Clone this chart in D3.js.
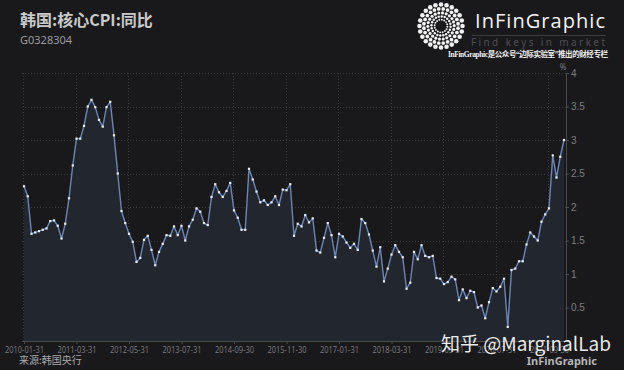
<!DOCTYPE html>
<html>
<head>
<meta charset="utf-8">
<script src="https://cdn.jsdelivr.net/npm/d3@7"></script>
<style>
  html, body { margin: 0; padding: 0; background: #19191b; }
  svg { display: block; font-family: "Noto Sans", "Noto Sans CJK SC", sans-serif; }
</style>
</head>
<body>
<svg id="chart"></svg>
<script>
'use strict';
// monthly core CPI yoy (%), 2010-01 .. 2022-01
const values = [
  2.31, 2.16, 1.60, 1.62, 1.64, 1.66, 1.68, 1.79, 1.80, 1.72, 1.53, 1.75,
  2.13, 2.62, 3.02, 3.02, 3.21, 3.50, 3.60, 3.49, 3.30, 3.20, 3.49, 3.57,
  3.07, 2.50, 1.94, 1.76, 1.60, 1.48, 1.18, 1.24, 1.51, 1.57, 1.36, 1.13,
  1.33, 1.45, 1.58, 1.57, 1.71, 1.58, 1.72, 1.50, 1.71, 1.81, 1.98, 1.93,
  1.76, 1.73, 2.15, 2.34, 2.22, 2.15, 2.24, 2.36, 1.95, 1.84, 1.66, 1.66,
  2.57, 2.41, 2.23, 2.07, 2.10, 2.03, 2.07, 2.16, 2.03, 2.26, 2.25, 2.34,
  1.57, 1.75, 1.71, 1.88, 1.77, 1.83, 1.35, 1.32, 1.54, 1.76, 1.58, 1.25,
  1.60, 1.56, 1.47, 1.39, 1.45, 1.36, 1.82, 1.76, 1.59, 1.35, 1.11, 1.40,
  0.89, 1.08, 1.29, 1.43, 1.33, 1.25, 0.78, 0.87, 1.33, 1.22, 1.43, 1.27,
  1.25, 1.27, 0.94, 0.93, 0.85, 0.88, 0.96, 0.92, 0.61, 0.77, 0.64, 0.75,
  0.73, 0.50, 0.53, 0.34, 0.58, 0.79, 0.74, 0.81, 0.93, 0.21, 1.06, 1.08,
  1.19, 1.19, 1.44, 1.62, 1.56, 1.50, 1.78, 1.89, 1.98, 2.77, 2.44, 2.75,
  3.00
];
const tickIndex = [0, 14, 28, 42, 56, 70, 84, 98, 112, 126, 140];
const tickLabels = ['2010-01-31', '2011-03-31', '2012-05-31', '2013-07-31', '2014-09-30',
  '2015-11-30', '2017-01-31', '2018-03-31', '2019-05-31', '2020-07-31', '2021-09-30'];
const yTicks = [0.5, 1, 1.5, 2, 2.5, 3, 3.5, 4];

const W = 624, H = 370;
const svg = d3.select('#chart').attr('width', W).attr('height', H);
svg.append('rect').attr('width', W).attr('height', H).attr('fill', '#19191b');

const plot = { left: 22, right: 566, top: 73, bottom: 341 };
const x = d3.scaleLinear().domain([0, values.length - 1]).range([24, 564]);
const y = d3.scaleLinear().domain([0, 4]).range([plot.bottom, plot.top]);

// grid
const grid = svg.append('g').attr('stroke', '#3a3a3d').attr('stroke-dasharray', '1,2').attr('stroke-width', 1);
grid.selectAll('line.h').data(yTicks).join('line')
  .attr('x1', plot.left).attr('x2', plot.right)
  .attr('y1', d => Math.round(y(d)) + 0.5).attr('y2', d => Math.round(y(d)) + 0.5);
grid.selectAll('line.v').data(tickIndex).join('line')
  .attr('x1', d => Math.round(x(d)) - 0.5).attr('x2', d => Math.round(x(d)) - 0.5)
  .attr('y1', plot.top).attr('y2', plot.bottom);

// area + line
const area = d3.area().x((d, i) => x(i)).y0(y(0)).y1(d => y(d));
const line = d3.line().x((d, i) => x(i)).y(d => y(d));
svg.append('path').datum(values).attr('d', area).attr('fill', '#232830').attr('opacity', 0.95);
svg.append('path').datum(values).attr('d', line)
  .attr('fill', 'none').attr('stroke', '#6e85b3').attr('stroke-width', 1.4)
  .attr('stroke-linejoin', 'round');
svg.append('g').selectAll('rect').data(values).join('rect')
  .attr('x', (d, i) => x(i) - 1.1).attr('y', d => y(d) - 1.1)
  .attr('width', 2.2).attr('height', 2.2).attr('fill', '#e6ecf6');

// x axis
const xAxis = svg.append('g').attr('transform', `translate(0,${plot.bottom})`)
  .call(d3.axisBottom(x).tickValues(tickIndex).tickFormat((d, i) => tickLabels[i]).tickSize(3).tickPadding(3));
xAxis.select('.domain').attr('stroke', '#4a4a4e').attr('d', `M${plot.left},0.5H${plot.right}`);
xAxis.selectAll('line').attr('stroke', '#4a4a4e');
xAxis.selectAll('text').attr('fill', '#7d7d80').attr('font-size', 9)
  .attr('textLength', 39).attr('lengthAdjust', 'spacingAndGlyphs')
  .attr('font-family', '"Open Sans", "Noto Sans", sans-serif');

// y axis on the right
const yAxis = svg.append('g').attr('transform', `translate(${plot.right},0)`)
  .call(d3.axisRight(y).tickValues(yTicks).tickFormat(d3.format('')).tickSize(3).tickPadding(2));
yAxis.select('.domain').attr('stroke', '#4a4a4e');
yAxis.selectAll('line').attr('stroke', '#4a4a4e');
yAxis.selectAll('text').attr('fill', '#7d7d80').attr('font-size', 10);
svg.append('text').attr('x', 563).attr('y', 70).attr('text-anchor', 'middle')
  .attr('fill', '#7d7d80').attr('font-size', 8).text('%');

// titles
svg.append('text').attr('x', 20).attr('y', 26).attr('fill', '#cacaca')
  .attr('font-size', 16).attr('font-weight', 'bold')
  .attr('font-family', '"Noto Sans CJK SC", sans-serif').text('韩国:核心CPI:同比');
svg.append('text').attr('x', 20).attr('y', 44).attr('fill', '#9a9a9c')
  .attr('font-size', 11).text('G0328304');

// logo
const logo = svg.append('g').attr('transform', 'translate(441,26)');
const rings = [
  { r: 21.5, n: 24, s: 2.3 },
  { r: 17.2, n: 24, s: 1.9 },
  { r: 13.2, n: 22, s: 1.6 },
  { r: 9.6, n: 20, s: 1.25 },
  { r: 6.4, n: 16, s: 0.95 }
];
rings.forEach((ring, k) => {
  logo.append('g').selectAll('circle').data(d3.range(ring.n)).join('circle')
    .attr('cx', j => ring.r * Math.cos(2 * Math.PI * j / ring.n + k * 0.13))
    .attr('cy', j => ring.r * Math.sin(2 * Math.PI * j / ring.n + k * 0.13))
    .attr('r', ring.s).attr('fill', '#f2f2f2');
});
svg.append('text').attr('x', 475).attr('y', 28).attr('fill', '#f4f4f4')
  .attr('font-size', 20).attr('font-family', '"Open Sans", sans-serif')
  .attr('textLength', 130).text('InFinGraphic');
svg.append('line').attr('x1', 472).attr('x2', 606).attr('y1', 35.5).attr('y2', 35.5)
  .attr('stroke', '#3d3d40').attr('stroke-width', 1);
svg.append('text').attr('x', 471).attr('y', 46).attr('fill', '#4e4e52')
  .attr('font-size', 10).attr('textLength', 134).text('Find keys in market');
svg.append('text').attr('x', 448).attr('y', 57).attr('fill', '#f0f0f0')
  .attr('font-size', 7.5).attr('font-weight', 'bold')
  .attr('font-family', '"Liberation Serif", "Noto Sans CJK SC", serif')
  .attr('textLength', 160).text('InFinGraphic是公众号“边际实验室”推出的财经专栏');

// footer
svg.append('text').attr('x', 19).attr('y', 364).attr('fill', '#a9a9ab')
  .attr('font-size', 10).attr('font-family', '"Noto Sans CJK SC", sans-serif').text('来源:韩国央行');
svg.append('text').attr('x', 597).attr('y', 365).attr('text-anchor', 'end').attr('fill', '#b5b5b7')
  .attr('font-size', 11).attr('font-weight', 'bold').text('InFinGraphic');

// watermark
svg.append('text').attr('x', 441).attr('y', 351).attr('fill', '#ffffff').attr('fill-opacity', 0.92)
  .attr('font-size', 19).attr('font-family', '"Noto Sans CJK SC", sans-serif')
  .text('知乎 @MarginalLab');
</script>
</body>
</html>
